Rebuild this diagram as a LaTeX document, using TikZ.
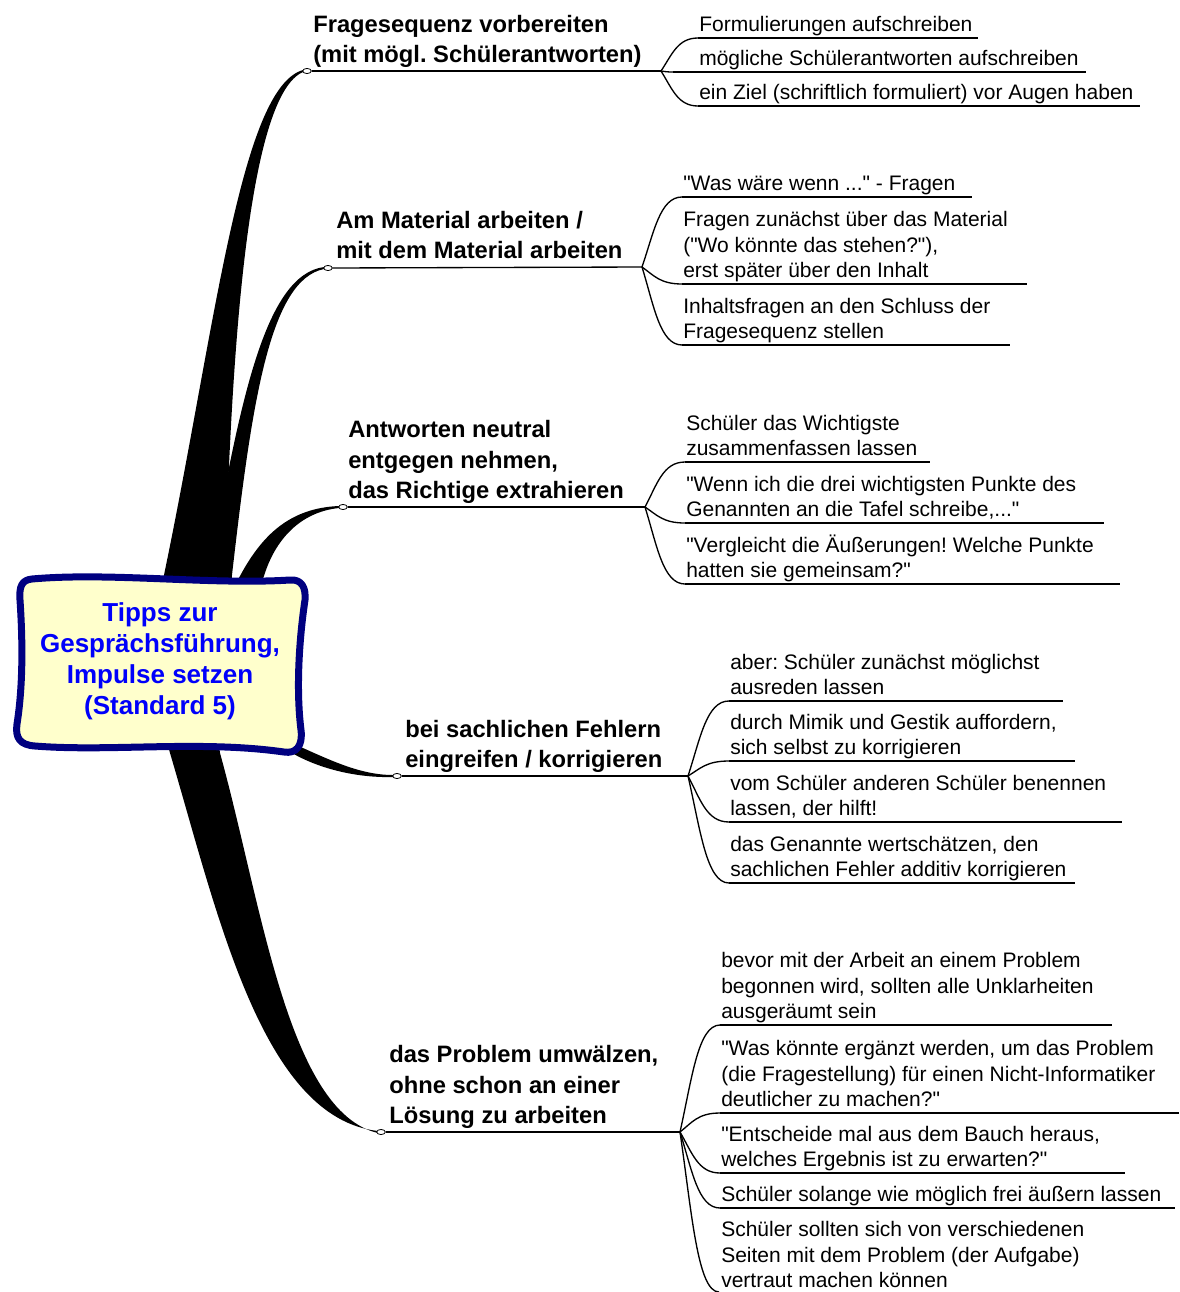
\documentclass[tikz,border=0pt]{standalone}
\usepackage{fontspec}
\newfontfamily\mainsans{Liberation Sans}
\usetikzlibrary{shapes.geometric,calc}
\definecolor{navyborder}{RGB}{0,0,128}
\definecolor{paleyellow}{RGB}{255,255,204}
\definecolor{titleblue}{RGB}{0,0,250}
\newcommand\subfont{\mainsans\fontsize{15.75pt}{19.1pt}\selectfont}
\newcommand\headfont{\mainsans\fontsize{17.8pt}{22.9pt}\selectfont\bfseries}
\newcommand\titlefont{\mainsans\fontsize{19.5pt}{23.3pt}\selectfont\bfseries}
\frenchspacing
% fan connector from fan point #1 to underline start #2
\newcommand\fanto[2]{\draw[leafline] let \p1=(#1), \p2=(#2) in (\p1) .. controls ({\x1+0.3*(\x2-\x1)},{\y1+0.5*(\y2-\y1)}) and ({\x1+0.45*(\x2-\x1)},\y2) .. (\p2);}
% leaf: #1 name, #2 fan, #3 text x, #4 underline start x, #5 underline y, #6 underline end x, #7 text
\newcommand\leaf[7]{%
  \coordinate (#1a) at (#4,#5);
  \coordinate (#1b) at (#6,#5);
  \node[leaftext] (#1) at (#3,#5+1.6) {#7\strut};
  \draw[leafline] (#1a) -- (#1b);
  \fanto{#2}{#1a}
}
\begin{document}
\begin{tikzpicture}[x=0.75pt,y=-0.75pt,
  leaftext/.style={anchor=south west,inner sep=0pt,align=left,font=\subfont},
  headtext/.style={anchor=south west,inner sep=0pt,align=left,font=\headfont},
  titletext/.style={align=center,font=\titlefont,text=titleblue,inner sep=0pt},
  leafline/.style={line width=1pt,black},
  knob/.style={ellipse,draw,fill=white,line width=0.6pt,minimum width=6.5pt,minimum height=3.8pt,inner sep=0pt},
  branch/.style={fill=black,draw=none},
  bubble/.style={draw=navyborder,fill=paleyellow,line width=5.25pt,line join=round}]
\useasboundingbox (0,0) rectangle (1179,1292);

% ---- tapered main branches ----
\fill[branch] (161,590) -- (164,575)
  .. controls (215,330) and (240,88) .. (303,70) -- (303,72)
  .. controls (250,95) and (232,330) .. (225,575) -- (226,590) -- cycle;
\fill[branch] (205,590) -- (209,575) .. controls (240,400) and (265,275) .. (324,267) -- (324,269)
  .. controls (270,280) and (252,400) .. (232,575) -- (231,590) -- cycle;
\fill[branch] (232,590) -- (240,576) .. controls (262,535) and (290,508) .. (339,506) -- (339,508)
  .. controls (300,512) and (275,540) .. (264,576) -- (258,590) -- cycle;
\fill[branch] (294,744) .. controls (330,760) and (360,775) .. (393,775) -- (393,777)
  .. controls (355,778) and (318,768) .. (292,753) -- cycle;
\fill[branch] (166,738) -- (170,753) .. controls (218,915) and (262,1118) .. (378,1131) -- (378,1133)
  .. controls (288,1112) and (262,905) .. (220,753) -- (218,738) -- cycle;

% ---- central topic ----
\draw[bubble] (32,579) .. controls (110,572) and (210,585) .. (290,580)
  .. controls (302,579) and (306,588) .. (305,600)
  .. controls (299,640) and (296,690) .. (301,730)
  .. controls (303,746) and (296,754) .. (284,752)
  .. controls (200,740) and (110,752) .. (35,746)
  .. controls (20,745) and (15,738) .. (17,724)
  .. controls (24,680) and (22,630) .. (20,600)
  .. controls (19,586) and (22,580) .. (32,579) -- cycle;
\node[titletext] (center) at (160,661) {Tipps zur\\Gesprächsführung,\\Impulse setzen\\(Standard 5)};

% ---- branch 1 ----
\coordinate (f1) at (661,71);
\node[headtext] (h1) at (313,72.2) {Fragesequenz vorbereiten\\(mit mögl. Schülerantworten)\strut};
\node[knob] (c1) at (307,71) {};
\draw[leafline] (c1.east) -- (f1);
\leaf{l11}{f1}{699}{698}{38}{978}{Formulierungen aufschreiben}
\leaf{l12}{f1}{699}{673}{72}{1086}{mögliche Schülerantworten aufschreiben}
\leaf{l13}{f1}{699}{698}{106}{1140}{ein Ziel (schriftlich formuliert) vor Augen haben}

% ---- branch 2 ----
\coordinate (f2) at (642,267);
\node[headtext] (h2) at (336,268.2) {Am Material arbeiten /\\mit dem Material arbeiten\strut};
\node[knob] (c2) at (328,268) {};
\draw[leafline] (c2.east) -- (f2);
\leaf{l21}{f2}{683}{682}{197}{972}{"Was wäre wenn ..." - Fragen}
\leaf{l22}{f2}{683}{682}{284}{1027}{Fragen zunächst über das Material\\("Wo könnte das stehen?"),\\erst später über den Inhalt}
\leaf{l23}{f2}{683}{682}{345}{1010}{Inhaltsfragen an den Schluss der\\Fragesequenz stellen}

% ---- branch 3 ----
\coordinate (f3) at (645,507);
\node[headtext] (h3) at (348,508.2) {Antworten neutral\\entgegen nehmen,\\das Richtige extrahieren\strut};
\node[knob] (c3) at (343,507) {};
\draw[leafline] (c3.east) -- (f3);
\leaf{l31}{f3}{686}{685}{462}{930}{Schüler das Wichtigste\\zusammenfassen lassen}
\leaf{l32}{f3}{686}{685}{523}{1104}{"Wenn ich die drei wichtigsten Punkte des\\Genannten an die Tafel schreibe,..."}
\leaf{l33}{f3}{686}{685}{584}{1120}{"Vergleicht die Äußerungen! Welche Punkte\\hatten sie gemeinsam?"}

% ---- branch 4 ----
\coordinate (f4) at (688,776);
\node[headtext] (h4) at (405,777.2) {bei sachlichen Fehlern\\eingreifen / korrigieren\strut};
\node[knob] (c4) at (397,776) {};
\draw[leafline] (c4.east) -- (f4);
\leaf{l41}{f4}{730}{729}{701}{1063}{aber: Schüler zunächst möglichst\\ausreden lassen}
\leaf{l42}{f4}{730}{729}{761}{1075}{durch Mimik und Gestik auffordern,\\sich selbst zu korrigieren}
\leaf{l43}{f4}{730}{729}{822}{1122}{vom Schüler anderen Schüler benennen\\lassen, der hilft!}
\leaf{l44}{f4}{730}{729}{883}{1075}{das Genannte wertschätzen, den\\sachlichen Fehler additiv korrigieren}

% ---- branch 5 ----
\coordinate (f5) at (680,1132);
\node[headtext] (h5) at (389,1133.2) {das Problem umwälzen,\\ohne schon an einer\\Lösung zu arbeiten\strut};
\node[knob] (c5) at (381,1132) {};
\draw[leafline] (c5.east) -- (f5);
\leaf{l51}{f5}{721}{720}{1025}{1112}{bevor mit der Arbeit an einem Problem\\begonnen wird, sollten alle Unklarheiten\\ausgeräumt sein}
\leaf{l52}{f5}{721}{720}{1113}{1179}{"Was könnte ergänzt werden, um das Problem\\(die Fragestellung) für einen Nicht-Informatiker\\deutlicher zu machen?"}
\leaf{l53}{f5}{721}{720}{1173}{1125}{"Entscheide mal aus dem Bauch heraus,\\welches Ergebnis ist zu erwarten?"}
\leaf{l54}{f5}{721}{720}{1208}{1175}{Schüler solange wie möglich frei äußern lassen}
\coordinate (l55a) at (719,1292);
\node[leaftext] (l55) at (721,1295.6) {Schüler sollten sich von verschiedenen\\Seiten mit dem Problem (der Aufgabe)\\vertraut machen können\strut};
\fanto{f5}{l55a}
\end{tikzpicture}
\end{document}
